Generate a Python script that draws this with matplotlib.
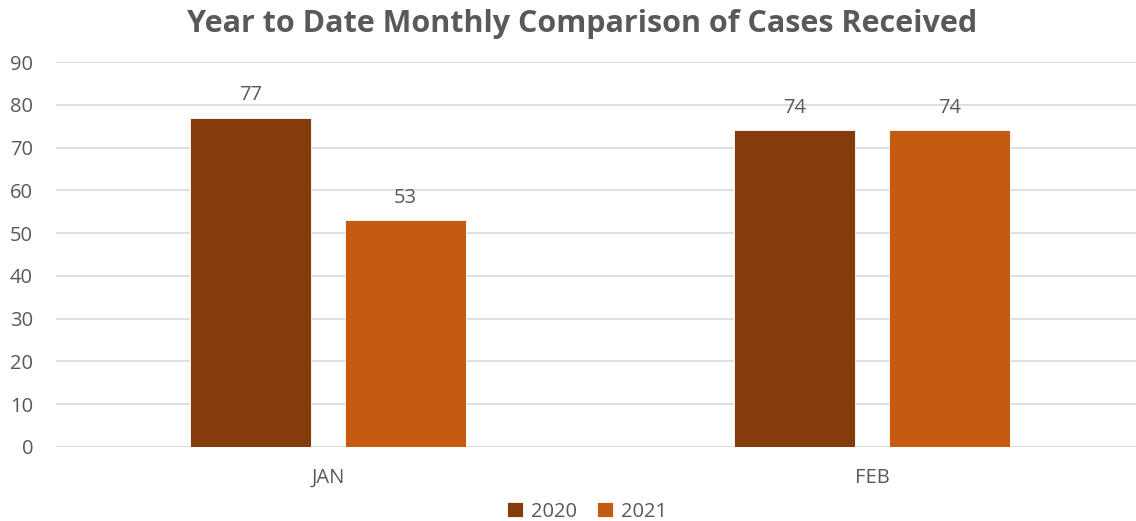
import matplotlib
matplotlib.use("Agg")
import matplotlib.pyplot as plt
import numpy as np

categories = ["JAN", "FEB"]
series_names = ["2020", "2021"]
values_2020 = [77, 74]
values_2021 = [53, 74]
colors = ["#843C0C", "#C55A11"]

plt.rcParams['font.family'] = ['Open Sans', 'DejaVu Sans']
text_color = "#595959"
fs = 14.5

fig = plt.figure(figsize=(11.36, 5.21), dpi=100)
ax = fig.add_axes([56/1136, 74/521, 1080/1136, 385/521])

x = np.arange(len(categories))
width = 0.2224
offset = 0.1425
for vals, off, col, name in zip([values_2020, values_2021], [-offset, offset], colors, series_names):
    b = ax.bar(x + off, vals, width, color=col, label=name, edgecolor="white", linewidth=0.6, zorder=3)
    for rect, v in zip(b, vals):
        ax.annotate(str(v), (rect.get_x() + rect.get_width()/2, v), xytext=(0, 9),
                    textcoords="offset points", ha="center", va="bottom",
                    fontsize=fs, color=text_color)

ax.set_xlim(-0.5, 1.485)
ax.set_ylim(0, 90)
ax.set_yticks(np.arange(0, 91, 10))
ax.yaxis.grid(True, color="#D9D9D9", linewidth=1.2, zorder=0)
ax.set_axisbelow(True)
for s in ax.spines.values():
    s.set_visible(False)
ax.tick_params(axis='both', length=0, labelsize=fs, labelcolor=text_color)
ax.tick_params(axis='y', pad=16.5)
ax.tick_params(axis='x', pad=15)
ax.set_xticks(x)
ax.set_xticklabels(categories)

fig.text(582/1136, 0.953, "Year to Date Monthly Comparison of Cases Received", ha="center", va="center",
         fontsize=22, fontweight="bold", color=text_color)

leg = fig.legend(loc="center", bbox_to_anchor=(587/1136, 0.018), ncol=2, frameon=False,
                 fontsize=fs, handlelength=0.8, handleheight=0.8, handletextpad=0.4, columnspacing=1.0)
for t in leg.get_texts():
    t.set_color(text_color)

fig.savefig("out.png", dpi=100)
